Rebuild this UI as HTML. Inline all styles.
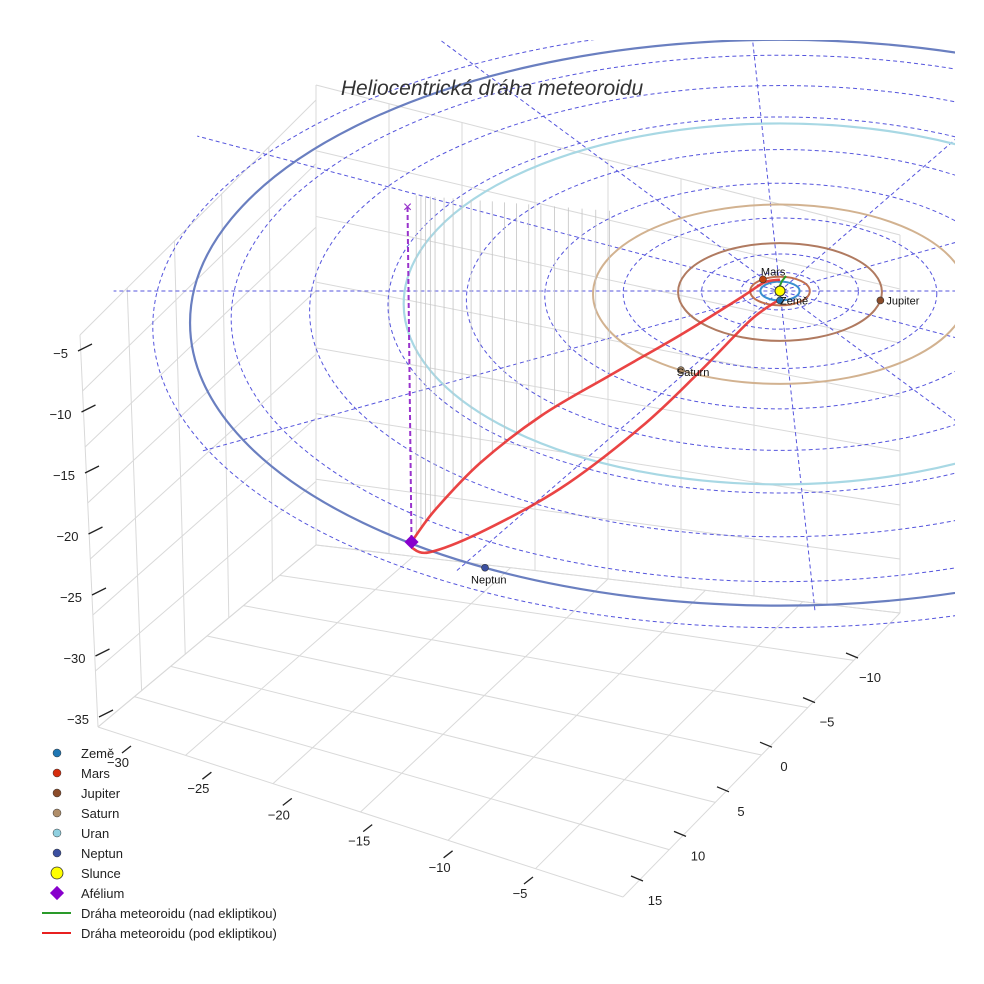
<!DOCTYPE html>
<html><head><meta charset="utf-8"><style>
html,body{margin:0;padding:0;background:#fff;}
svg{display:block;font-family:"Liberation Sans",sans-serif;}
</style></head><body>
<svg id="chart" width="984" height="984" viewBox="0 0 984 984">
<defs><clipPath id="plotclip"><rect x="0" y="40" width="955" height="700"/></clipPath></defs>
<g id="grid"></g>
<g id="plot" clip-path="url(#plotclip)"></g>
<g id="axes"></g>
<text x="492" y="95" text-anchor="middle" font-size="21" font-style="italic" fill="#333">Heliocentrická dráha meteoroidu</text>
<g id="legend"></g>
</svg>
<script>
// ---- data ----
const planetNames = ["Země","Mars","Jupiter","Saturn","Uran","Neptun"];
const planetRadiiAU = [1.0, 1.52, 5.2, 9.54, 19.2, 30.1];
const planetAnglesDeg = [90, 235, 10, 122, 200, 120];
const planetColors = ["#1f6fb0","#c1440e","#8b4c2a","#b08e6a","#8fd0e0","#3b4fa0"];
const orbitColors = ["#3a8fd0","#c07050","#b07a60","#d2b290","#a8d8e4","#6a7fc0"];
const gridRadiiAU = [2, 4, 8, 12, 16, 20, 24, 28, 32];
const radialAnglesDeg = [0, 29, 57, 87, 119, 150];
// meteoroid orbit sample points (AU, ecliptic plane)
const meteorUpperX = [-18.8, -17.6, -15.3, -12.2, -8.7, -5.1, -2.0, -0.8, 0.0];
const meteorUpperY = [26.7, 23.3, 18.3, 13.3, 9.0, 4.7, 0.7, -0.9, -1.2];
const meteorLowerX = [-18.8, -17.9, -15.3, -11.2, -7.1, -4.1, -1.5, -0.1];
const meteorLowerY = [27.3, 27.8, 25.7, 21.0, 14.5, 8.6, 3.1, 1.0];
const zTicks = [-5,-10,-15,-20,-25,-30,-35];
const xTicks = [-30,-25,-20,-15,-10,-5];
const yTicks = [-10,-5,0,5,10,15];
const legendLabels = ["Země","Mars","Jupiter","Saturn","Uran","Neptun","Slunce","Afélium","Dráha meteoroidu (nad ekliptikou)","Dráha meteoroidu (pod ekliptikou)"];

// ---- projection ----
const SUN = [780, 291];
const SX = 19.6, SY = 9.4;
function cyOff(r){ return r*r*0.035; }
function proj(x,y){ return [SUN[0]+x*SX, SUN[1]+y*SY]; }
const NS="http://www.w3.org/2000/svg";
function mk(tag, attrs, parent){ const e=document.createElementNS(NS,tag); for(const k in attrs) e.setAttribute(k,attrs[k]); parent.appendChild(e); return e; }
const grid=document.getElementById('grid'), plot=document.getElementById('plot'), axes=document.getElementById('axes'), legend=document.getElementById('legend');

// ---- 3D box grid (approximate) ----
function lerp(a,b,t){return [a[0]+(b[0]-a[0])*t, a[1]+(b[1]-a[1])*t];}
function quadGrid(q, nu, nv){
  for(let i=0;i<=nu;i++){const t=i/nu; const a=lerp(q[0],q[1],t), b=lerp(q[3],q[2],t);
    const l=mk('line',{x1:a[0],y1:a[1],x2:b[0],y2:b[1],stroke:'#d9d9d9','stroke-width':1},grid);
    
    }
  for(let j=0;j<=nv;j++){const t=j/nv; const a=lerp(q[0],q[3],t), b=lerp(q[1],q[2],t);
    const l=mk('line',{x1:a[0],y1:a[1],x2:b[0],y2:b[1],stroke:'#d9d9d9','stroke-width':1},grid);
    
    }
}
quadGrid([[98,727],[316,545],[316,100],[80,335]],5,7);
quadGrid([[316,545],[900,613],[900,235],[316,85]],8,7);
quadGrid([[98,727],[623,897],[900,613],[316,545]],6,6);

// ---- dashed grid ellipses ----
gridRadiiAU.forEach(r=>{
  const e=mk('ellipse',{cx:SUN[0],cy:SUN[1]+cyOff(r),rx:r*SX,ry:r*SY,fill:'none',stroke:'#5555dd','stroke-width':1,'stroke-dasharray':'4,3'},plot);
  
  
});
radialAnglesDeg.forEach(a=>{
  const R=34, t=a*Math.PI/180;
  const p1=proj(R*Math.cos(t),R*Math.sin(t)), p2=proj(-R*Math.cos(t),-R*Math.sin(t));
  const l=mk('line',{x1:p1[0],y1:p1[1],x2:p2[0],y2:p2[1],stroke:'#5555dd','stroke-width':1,'stroke-dasharray':'4,3'},plot);
  
  
});

// ---- planet orbits ----
planetRadiiAU.forEach((r,i)=>{
  const e=mk('ellipse',{cx:SUN[0],cy:SUN[1]+cyOff(r),rx:r*SX,ry:r*SY,fill:'none',stroke:orbitColors[i],'stroke-width':i>=4?2.2:2},plot);
  
  
});

// ---- smooth path helper ----
function smoothPath(pts){
  let d='M'+pts[0][0].toFixed(1)+','+pts[0][1].toFixed(1);
  for(let i=0;i<pts.length-1;i++){
    const p0=pts[Math.max(0,i-1)],p1=pts[i],p2=pts[i+1],p3=pts[Math.min(pts.length-1,i+2)];
    const c1=[p1[0]+(p2[0]-p0[0])/6,p1[1]+(p2[1]-p0[1])/6], c2=[p2[0]-(p3[0]-p1[0])/6,p2[1]-(p3[1]-p1[1])/6];
    d+=' C'+c1.map(v=>v.toFixed(1)).join(',')+' '+c2.map(v=>v.toFixed(1)).join(',')+' '+p2.map(v=>v.toFixed(1)).join(',');
  }
  return d;
}
const upperPts=meteorUpperX.map((x,i)=>proj(x,meteorUpperY[i]));
const lowerPts=meteorLowerX.map((x,i)=>proj(x,meteorLowerY[i]));

// ---- stems ----
const stemG=mk('g',{},plot);
for(let k=0;k<upperPts.length-1;k++){
  for(let s=0;s<5;s++){
    const p=lerp(upperPts[k],upperPts[k+1],s/5);
    if(p[0]>610 || p[0]<414) continue;
    const l=mk('line',{x1:p[0],y1:p[1],x2:p[0],y2:195+(p[0]-412)*0.08,stroke:'#c4c4c4','stroke-width':0.8},stemG);
    
    
  }
}

// ---- meteoroid orbit ----
let m1=mk('path',{d:smoothPath(upperPts),fill:'none',stroke:'#e83030','stroke-width':2.6,opacity:0.9},plot);


let m2=mk('path',{d:smoothPath(lowerPts),fill:'none',stroke:'#e83030','stroke-width':2.6,opacity:0.9},plot);


let m3=mk('path',{d:'M778,290 L782,281 L786,276',fill:'none',stroke:'#2a9a2a','stroke-width':2},plot);



// aphelion
const ap=upperPts[0];
let vl=mk('line',{x1:ap[0]-4,y1:207,x2:ap[0],y2:ap[1],stroke:'#9933cc','stroke-width':2,'stroke-dasharray':'5,3'},plot);


let xm=mk('text',{x:ap[0]-4,y:212,'text-anchor':'middle','font-size':16,fill:'#9933cc'},plot); xm.textContent='×';


let dm=mk('rect',{x:ap[0]-5,y:ap[1]-5,width:10,height:10,fill:'#8800cc',transform:`rotate(45 ${ap[0]} ${ap[1]})`},plot);



// sun
let sun=mk('circle',{cx:SUN[0],cy:SUN[1],r:5,fill:'#ffff00',stroke:'#333','stroke-width':1},plot);



// planets
planetRadiiAU.forEach((r,i)=>{
  if(i===4) return;
  const t=planetAnglesDeg[i]*Math.PI/180;
  const p=[SUN[0]+r*SX*Math.cos(t), SUN[1]+cyOff(r)+r*SY*Math.sin(t)];
  const c=mk('circle',{cx:p[0],cy:p[1],r:3.5,fill:planetColors[i],stroke:'#333','stroke-width':0.6},plot);
  
  
  const off=[[0,0],[-2,-8],[6,0],[-4,2],[0,0],[-14,12]][i];
  const tx=mk('text',{x:p[0]+off[0],y:p[1]+off[1]+4,'font-size':11,fill:'#111'},plot);
  tx.textContent=planetNames[i];
  
  
});

// ---- axes ticks ----
function zY(v){ return 353 + (-5 - v)*12.2; }
zTicks.forEach(v=>{
  const y=zY(v), x=78-(v+5)*0.7;
  const l=mk('line',{x1:x,y1:y-2,x2:x+14,y2:y-9,stroke:'#222','stroke-width':1.3},axes);
  
  
  const t=mk('text',{x:x-10,y:y+5,'text-anchor':'end','font-size':13,fill:'#222'},axes); t.textContent='\u2212'+Math.abs(v);
  
  
});
function xPos(v){ const t=(v+30)/25; return [118+t*402, 762+t*131]; }
xTicks.forEach(v=>{
  const p=xPos(v);
  const l=mk('line',{x1:p[0]+4,y1:p[1]-9,x2:p[0]+13,y2:p[1]-16,stroke:'#222','stroke-width':1.3},axes);
  
  
  const t=mk('text',{x:p[0],y:p[1]+5,'text-anchor':'middle','font-size':13,fill:'#222'},axes); t.textContent=(v<0?'\u2212':'')+Math.abs(v);
  
  
});
function yPos(v){ const t=(v+10)/25; return [870-t*215, 677+t*223]; }
yTicks.forEach(v=>{
  const p=yPos(v);
  const l=mk('line',{x1:p[0]-24,y1:p[1]-24,x2:p[0]-12,y2:p[1]-19,stroke:'#222','stroke-width':1.3},axes);
  
  
  const t=mk('text',{x:p[0],y:p[1]+5,'text-anchor':'middle','font-size':13,fill:'#222'},axes); t.textContent=(v<0?'\u2212':'')+Math.abs(v);
  
  
});

// ---- legend ----
const legColors=["#1f77b4","#d62d0e","#8b4c2a","#b08e6a","#8fd0e0","#3b4fa0","#ffff00","#8800cc","#2a9a2a","#e82020"];
legendLabels.forEach((lab,i)=>{
  const y=753+i*20;
  const g=mk('g',{},legend);
  
  
  if(i<6) mk('circle',{cx:57,cy:y,r:4,fill:legColors[i],stroke:'#333','stroke-width':0.5},g);
  else if(i===6) mk('circle',{cx:57,cy:y,r:6,fill:legColors[i],stroke:'#333','stroke-width':0.8},g);
  else if(i===7) mk('rect',{x:52,y:y-5,width:10,height:10,fill:legColors[i],transform:`rotate(45 57 ${y})`},g);
  else mk('line',{x1:42,y1:y,x2:71,y2:y,stroke:legColors[i],'stroke-width':2},g);
  const t=mk('text',{x:81,y:y+5,'font-size':13,fill:'#222'},g); t.textContent=lab;
});
</script>
</body></html>
